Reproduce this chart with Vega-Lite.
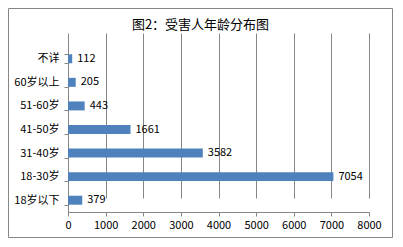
{
  "$schema": "https://vega.github.io/schema/vega-lite/v6.json",
  "width": 384,
  "height": 229,
  "autosize": {"type": "none"},
  "padding": {"left": 8, "top": 8, "right": 11, "bottom": 10},
  "background": "white",
  "config": {
    "view": {"stroke": "#868686", "strokeWidth": 1},
    "axis": {
      "labelFont": "Noto Sans CJK SC",
      "labelFontSize": 11,
      "labelColor": "#000000",
      "domainColor": "#868686",
      "tickColor": "#868686",
      "gridColor": "#868686",
      "tickSize": 4
    }
  },
  "data": {
    "values": [
      {"group": "不详", "count": 112},
      {"group": "60岁以上", "count": 205},
      {"group": "51-60岁", "count": 443},
      {"group": "41-50岁", "count": 1661},
      {"group": "31-40岁", "count": 3582},
      {"group": "18-30岁", "count": 7054},
      {"group": "18岁以下", "count": 379}
    ]
  },
  "encoding": {
    "y": {
      "field": "group",
      "type": "nominal",
      "sort": null,
      "scale": {"range": [39, 204], "paddingInner": 0.62, "paddingOuter": 0.31},
      "axis": {"title": null, "offset": -60, "tickBand": "extent", "labelPadding": 5, "grid": false}
    },
    "x": {
      "field": "count",
      "type": "quantitative",
      "scale": {"domain": [0, 8000], "range": [60, 361], "nice": false},
      "axis": {
        "values": [0, 1000, 2000, 3000, 4000, 5000, 6000, 7000, 8000],
        "offset": -25,
        "grid": true,
        "labelPadding": 3,
        "labelFlush": false,
        "labelOverlap": false,
        "format": "d",
        "title": "图2：受害人年龄分布图",
        "titleX": 192,
        "titleY": -188,
        "titleAlign": "center",
        "titleBaseline": "middle",
        "titleFont": "Noto Sans CJK SC",
        "titleFontSize": 13,
        "titleFontWeight": "normal",
        "titleColor": "#000000"
      }
    }
  },
  "layer": [
    {"mark": {"type": "bar", "color": "#4F81BD"}},
    {
      "mark": {"type": "text", "align": "left", "baseline": "middle", "dx": 5, "font": "Noto Sans CJK SC", "fontSize": 11, "color": "#000000"},
      "encoding": {"text": {"field": "count", "type": "quantitative", "format": "d"}}
    }
  ]
}
